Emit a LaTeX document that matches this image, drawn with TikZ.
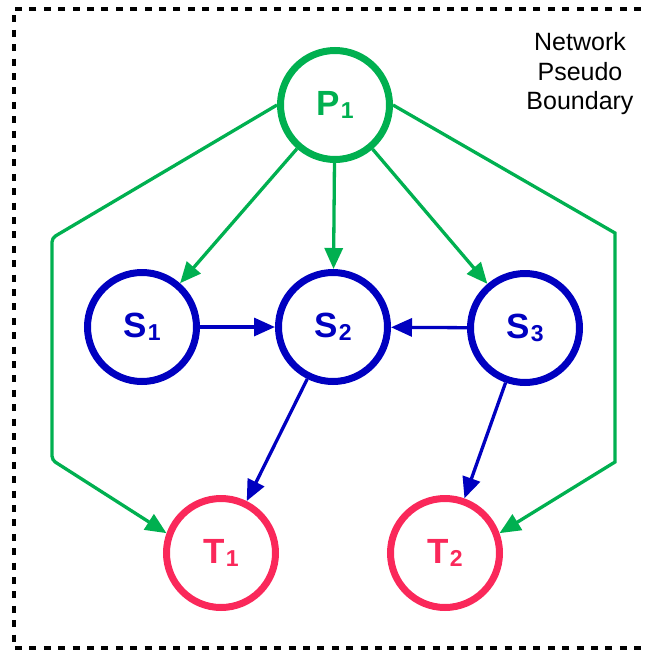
\documentclass[tikz,border=0pt]{standalone}
\usepackage{fontspec}
\setmainfont{Liberation Sans}
\usetikzlibrary{arrows.meta}

\definecolor{pgreen}{RGB}{0,176,80}
\definecolor{sblue}{RGB}{0,0,192}
\definecolor{tred}{RGB}{250,40,90}

% node label: bold letter with a lowered index
\newcommand{\statelbl}[2]{{\fontsize{35}{35}\selectfont\bfseries #1\hspace{1pt}\raisebox{-2.5pt}{\fontsize{23}{23}\selectfont #2}}}

\tikzset{
  state/.style={circle, line width=7pt, minimum size=109pt, inner sep=0pt, draw=#1, text=#1},
  link/.style={line width=3.3pt, draw=#1, -{Triangle[length=21pt,width=18pt]}},
  boundary/.style={line width=3.5pt, dash pattern=on 7pt off 7.4pt},
}

\begin{document}
\begin{tikzpicture}[x=1pt,y=-1pt]
  \useasboundingbox (0,0) rectangle (648,651);
  \clip (0,0) rectangle (648,651);

  % dashed network boundary
  \draw[boundary] (670,9) -- (14,9) -- (14,648) -- (670,648);
  \node[align=center, font=\fontsize{25}{29.5}\selectfont] (lab) at (580,74) {Network\\Pseudo\\Boundary};

  % nodes
  \node[state=pgreen] (P1) at (335,105) {\statelbl{P}{1}};
  \node[state=sblue]  (S1) at (142,327) {\statelbl{S}{1}};
  \node[state=sblue]  (S2) at (333,327) {\statelbl{S}{2}};
  \node[state=sblue]  (S3) at (525,328) {\statelbl{S}{3}};
  \node[state=tred]   (T1) at (221,553) {\statelbl{T}{1}};
  \node[state=tred]   (T2) at (445,553) {\statelbl{T}{2}};

  % bends of the outer routes
  \coordinate (lt) at (52,238);
  \coordinate (lb) at (52,460);
  \coordinate (rt) at (615,233);
  \coordinate (rb) at (615,462);

  % edges from P1
  \draw[link=pgreen] (P1) -- (S1);
  \draw[link=pgreen] (P1) -- (S2);
  \draw[link=pgreen] (P1) -- (S3);
  \draw[link=pgreen, rounded corners=4pt] (P1.west) -- (lt) -- (lb) -- (T1.160);
  \draw[link=pgreen] (P1.east) -- (rt) -- (rb) -- (T2.20);

  % edges between S nodes and to T nodes
  \draw[link=sblue] (S1) -- (S2);
  \draw[link=sblue] (S3) -- (S2);
  \draw[link=sblue] (S2) -- (T1);
  \draw[link=sblue] (S3) -- (T2);
\end{tikzpicture}
\end{document}
